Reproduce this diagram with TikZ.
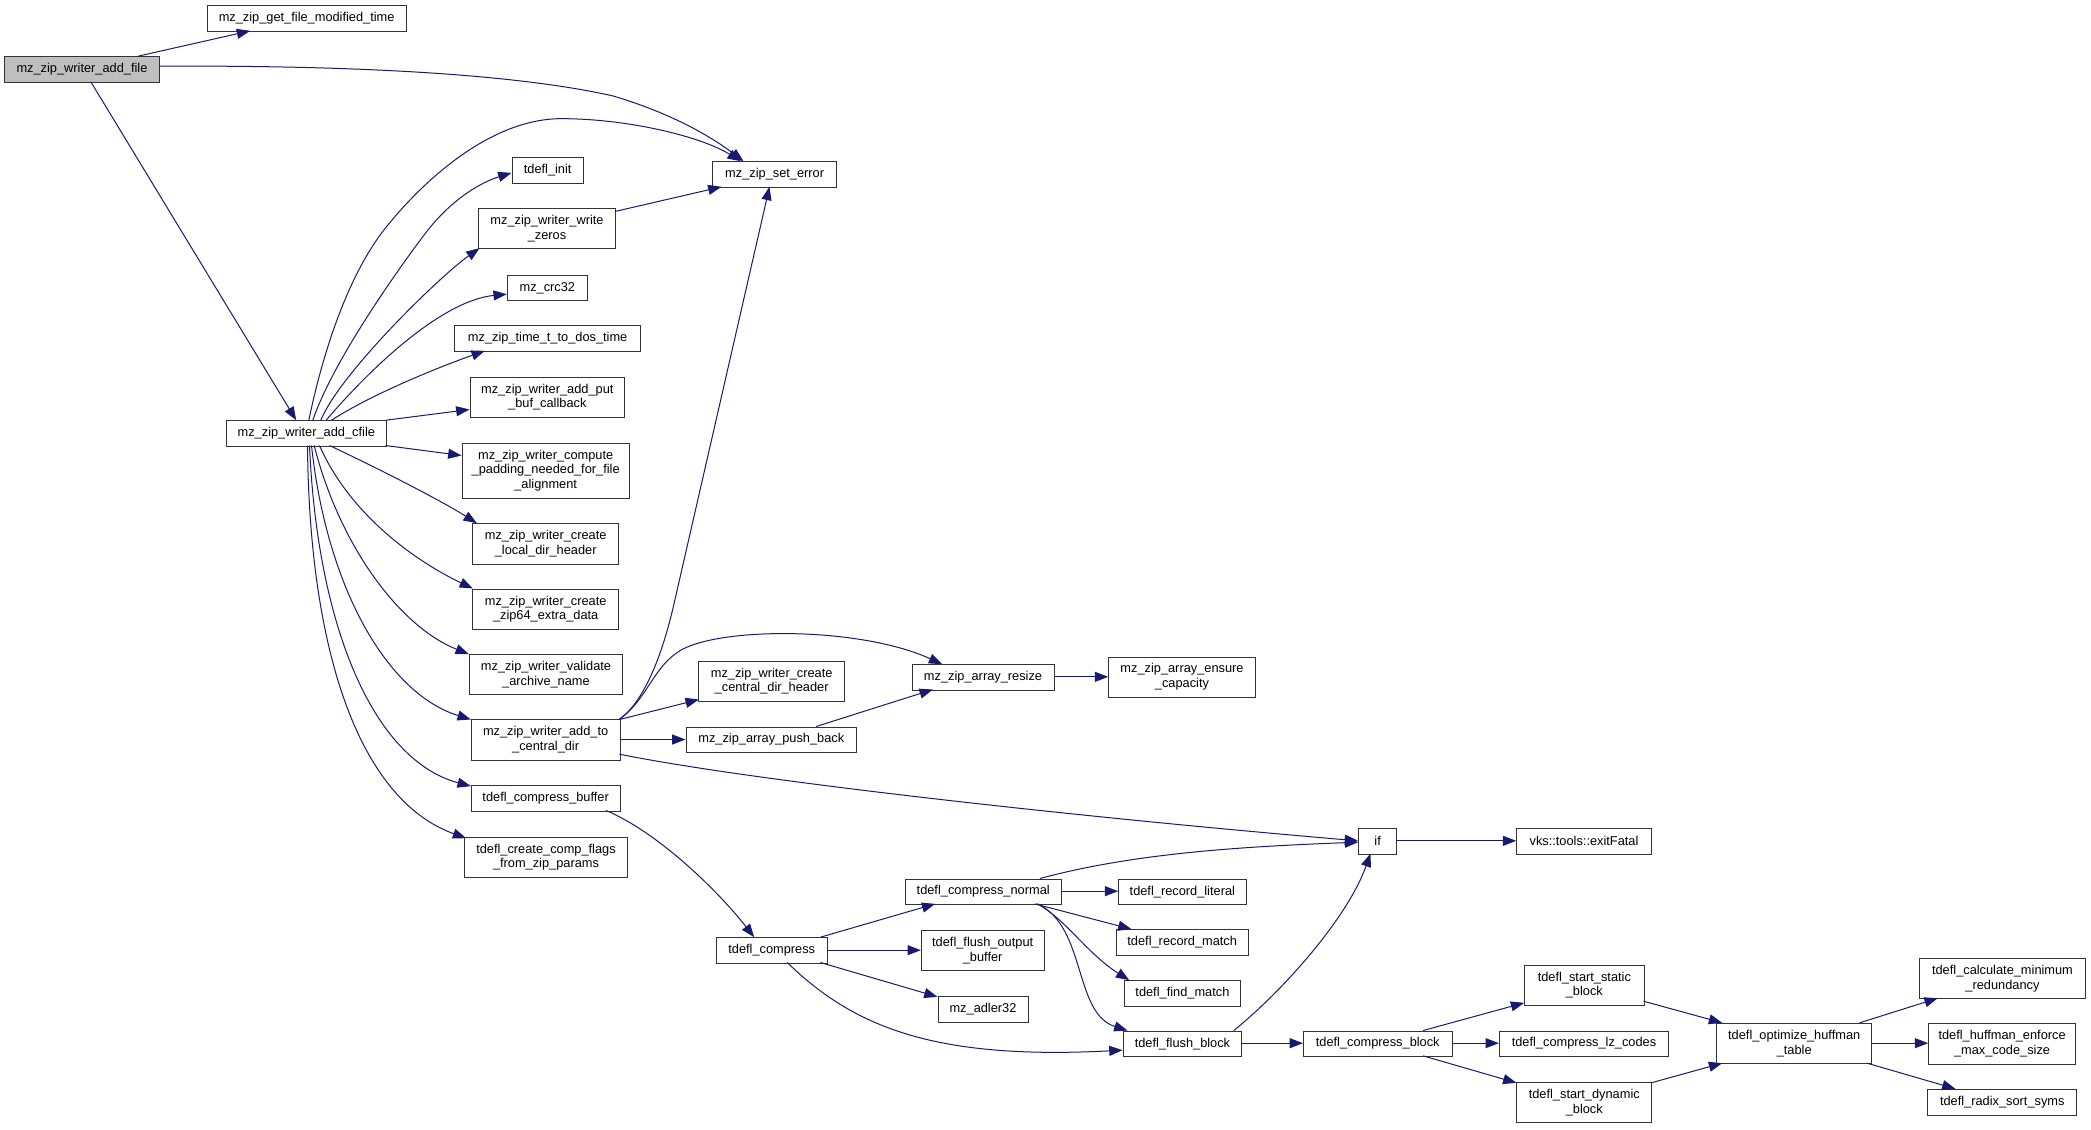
\documentclass[tikz,border=0pt]{standalone}
\usepackage{fontspec}
\setmainfont{Liberation Sans}
\usetikzlibrary{arrows.meta,calc}
\definecolor{edgecol}{HTML}{191970}
\definecolor{rootfill}{HTML}{BFBFBF}
\begin{document}
\begin{tikzpicture}[x=1pt,y=-1pt,
  box/.style={draw=black!80, line width=0.75pt, fill=white, inner sep=1pt, align=center,
    font=\fontsize{9.6}{11}\selectfont},
  bb/.style args={#1/#2/#3/#4}{minimum width={(#3-#1)*1pt}, minimum height={(#4-#2)*1pt},
    at={({(#1+#3)/2},{(#2+#4)/2})}},
  e/.style={draw=edgecol, line width=0.75pt, -{Triangle[length=10pt,width=7.5pt]}}]
\useasboundingbox (0,0) rectangle (1568.25,846.75);
% nodes
\node[box,bb=155.5/4.25/304.5/23.5] (getmod) {mz\_zip\_get\_file\_modified\_time};
\node[box,bb=3.5/42.5/119.5/61.75,fill=rootfill] (addfile) {mz\_zip\_writer\_add\_file};
\node[box,bb=534.5/121.25/627.5/140.5] (seterr) {mz\_zip\_set\_error};
\node[box,bb=384/118.25/437.5/137.5] (tinit) {tdefl\_init};
\node[box,bb=359/156.5/461.5/186.5] (zeros) {mz\_zip\_writer\_write\\\_zeros};
\node[box,bb=380.5/206.25/440.5/225.5] (crc) {mz\_crc32};
\node[box,bb=341/244.25/480.5/263.5] (dostime) {mz\_zip\_time\_t\_to\_dos\_time};
\node[box,bb=352.5/282.75/468.5/312.75] (putbuf) {mz\_zip\_writer\_add\_put\\\_buf\_callback};
\node[box,bb=169.5/315.5/290/334.5] (cfile) {mz\_zip\_writer\_add\_cfile};
\node[box,bb=346.5/332.25/472/373.5] (padding) {mz\_zip\_writer\_compute\\\_padding\_needed\_for\_file\\\_alignment};
\node[box,bb=354.5/392.75/464/423] (localdir) {mz\_zip\_writer\_create\\\_local\_dir\_header};
\node[box,bb=354.5/441.75/464/472] (zip64) {mz\_zip\_writer\_create\\\_zip64\_extra\_data};
\node[box,bb=352/490.75/467/521] (validate) {mz\_zip\_writer\_validate\\\_archive\_name};
\node[box,bb=353.5/539.75/465/570] (central) {mz\_zip\_writer\_add\_to\\\_central\_dir};
\node[box,bb=353.5/589.25/465/608.25] (cbuffer) {tdefl\_compress\_buffer};
\node[box,bb=348.5/627.75/470.5/658] (cflags) {tdefl\_create\_comp\_flags\\\_from\_zip\_params};
\node[box,bb=524/495.75/633.5/526] (cdirhdr) {mz\_zip\_writer\_create\\\_central\_dir\_header};
\node[box,bb=514.5/545.25/642.5/564.25] (pushback) {mz\_zip\_array\_push\_back};
\node[box,bb=684/498.5/790.5/517.5] (resize) {mz\_zip\_array\_resize};
\node[box,bb=831.5/492.75/941.5/522.75] (ensure) {mz\_zip\_array\_ensure\\\_capacity};
\node[box,bb=1019/621.5/1047.5/640.5] (if) {if};
\node[box,bb=1137.5/621.5/1238.5/640.5] (exitfatal) {vks::tools::exitFatal};
\node[box,bb=537.3/703.25/620.3/722.25] (tcompress) {tdefl\_compress};
\node[box,bb=678.8/659.25/796/678.25] (cnormal) {tdefl\_compress\_normal};
\node[box,bb=839/659.25/934.5/678.25] (literal) {tdefl\_record\_literal};
\node[box,bb=691/697.75/783/728] (flushout) {tdefl\_flush\_output\\\_buffer};
\node[box,bb=837.3/697.25/936/716.25] (rmatch) {tdefl\_record\_match};
\node[box,bb=703.5/747.5/771/766.5] (adler) {mz\_adler32};
\node[box,bb=843.3/735.5/930.3/754.5] (findmatch) {tdefl\_find\_match};
\node[box,bb=842.3/773.25/931.4/792.25] (flushblock) {tdefl\_flush\_block};
\node[box,bb=977.6/773.25/1089/792.25] (cblock) {tdefl\_compress\_block};
\node[box,bb=1143.5/723.75/1233/754] (staticb) {tdefl\_start\_static\\\_block};
\node[box,bb=1124.5/773.25/1251.5/792.25] (lzcodes) {tdefl\_compress\_lz\_codes};
\node[box,bb=1137.7/811.75/1238.7/841.75] (dynb) {tdefl\_start\_dynamic\\\_block};
\node[box,bb=1287.6/767.5/1403.7/797.75] (optim) {tdefl\_optimize\_huffman\\\_table};
\node[box,bb=1439.7/718.75/1564/749] (calcmin) {tdefl\_calculate\_minimum\\\_redundancy};
\node[box,bb=1446.5/767.75/1556.6/798] (enforce) {tdefl\_huffman\_enforce\\\_max\_code\_size};
\node[box,bb=1445.7/817/1557.7/836.25] (radix) {tdefl\_radix\_sort\_syms};
% edges
\draw[e] ($(addfile.north west)+(100.5,0)$) -- ($(getmod.north west)+(32.5,19.25)$);
\draw[e] ($(addfile.north west)+(116,7.5)$) .. controls (250,49) and (380,54) .. (460,72)
  .. controls (500,84) and (530,100) .. ($(seterr.north west)+(23.5,0)$);
\draw[e] ($(addfile.north west)+(65,19.25)$) -- ($(cfile.north west)+(53,0)$);
\draw[e] ($(cfile.north west)+(62.5,0)$) .. controls (242,265) and (260,210) .. (286,175)
  .. controls (305,150) and (360,89) .. (421,89)
  .. controls (470,89) and (525,102) .. ($(seterr.north west)+(21.5,0)$);
\draw[e] ($(cfile.north west)+(65.5,0)$) .. controls (250,270) and (300,200) .. (319,175)
  .. controls (338,150) and (360,137) .. ($(tinit.north west)+(0,11.75)$);
\draw[e] ($(cfile.north west)+(71.5,0)$) .. controls (255,280) and (330,207) .. ($(zeros.north west)+(1,30)$);
\draw[e] ($(cfile.north west)+(75.5,0)$) .. controls (285,268) and (335,225) .. ($(crc.north west)+(0,14.75)$);
\draw[e] ($(cfile.north west)+(79.5,0)$) .. controls (280,295) and (330,275) .. ($(dostime.north west)+(23,19.25)$);
\draw[e] ($(cfile.north west)+(120.5,0)$) -- ($(putbuf.north west)+(0,24.75)$);
\draw[e] ($(cfile.north west)+(120,19)$) -- ($(padding.north west)+(0,9.75)$);
\draw[e] ($(cfile.north west)+(78,19)$) .. controls (285,352) and (330,375) .. ($(localdir.north west)+(3.5,0)$);
\draw[e] ($(cfile.north west)+(70.5,19)$) .. controls (262,385) and (310,420) .. ($(zip64.north west)+(0.5,0)$);
\draw[e] ($(cfile.north west)+(66.5,19)$) .. controls (255,410) and (300,470) .. ($(validate.north west)+(0,0.25)$);
\draw[e] ($(cfile.north west)+(64.5,19)$) .. controls (245,440) and (290,520) .. ($(central.north west)+(0,0.25)$);
\draw[e] ($(cfile.north west)+(63,19)$) .. controls (238,470) and (280,570) .. ($(cbuffer.north west)+(0,0.75)$);
\draw[e] ($(cfile.north west)+(61.5,19)$) .. controls (232,490) and (270,600) .. ($(cflags.north west)+(1.5,1.25)$);
\draw[e] ($(zeros.north west)+(102.5,2.5)$) -- ($(seterr.north west)+(7,19.25)$);
\draw[e] ($(central.north west)+(111.5,0)$) .. controls (485,525) and (498,485) .. (505,455)
  -- ($(seterr.north west)+(43,19.25)$);
\draw[e] ($(central.north west)+(111.5,0)$) .. controls (485,525) and (490,500) .. (510,488)
  .. controls (540,470) and (645,470) .. ($(resize.north west)+(23,0)$);
\draw[e] ($(central.north west)+(111.5,0.25)$) -- ($(cdirhdr.north west)+(0.5,29.25)$);
\draw[e] ($(central.north west)+(111.5,15.25)$) -- ($(pushback.north west)+(0,9.75)$);
\draw[e] ($(central.north west)+(111.5,26.25)$) .. controls (560,585) and (800,612) .. ($(if.north west)+(0,9.5)$);
\draw[e] ($(pushback.north west)+(98,0)$) -- ($(resize.north west)+(16,19)$);
\draw[e] ($(resize.north west)+(106.5,9.5)$) -- ($(ensure.north west)+(0,15.25)$);
\draw[e] ($(cbuffer.north west)+(101.5,19)$) .. controls (495,625) and (540,670) .. ($(tcompress.north west)+(28.7,0)$);
\draw[e] ($(tcompress.north west)+(78.4,0)$) -- ($(cnormal.north west)+(23,19)$);
\draw[e] ($(tcompress.north west)+(83,9.75)$) -- ($(flushout.north west)+(0,15.25)$);
\draw[e] ($(tcompress.north west)+(78.4,19)$) -- ($(adler.north west)+(0,0.5)$);
\draw[e] ($(tcompress.north west)+(53.5,19)$) .. controls (640,770) and (700,795) .. ($(flushblock.north west)+(0,14.75)$);
\draw[e] ($(cnormal.north west)+(101.5,0)$) .. controls (850,640) and (930,635) .. ($(if.north west)+(0,10.5)$);
\draw[e] ($(cnormal.north west)+(117.2,9.5)$) -- ($(literal.north west)+(0,9.5)$);
\draw[e] ($(cnormal.north west)+(97.6,19)$) -- ($(rmatch.north west)+(11.7,0)$);
\draw[e] ($(cnormal.north west)+(99.6,19)$) .. controls (800,690) and (815,715) .. ($(findmatch.north west)+(4,0)$);
\draw[e] ($(cnormal.north west)+(99.6,19)$) .. controls (815,695) and (805,760) .. ($(flushblock.north west)+(3.7,0)$);
\draw[e] ($(flushblock.north west)+(83.4,0)$) .. controls (960,745) and (1010,690) .. ($(if.north west)+(9.3,19)$);
\draw[e] ($(flushblock.north west)+(89.1,9.5)$) -- ($(cblock.north west)+(0,9.5)$);
\draw[e] ($(cblock.north west)+(90.1,0)$) -- ($(staticb.north west)+(0,28.75)$);
\draw[e] ($(cblock.north west)+(111.4,9.5)$) -- ($(lzcodes.north west)+(0,9.5)$);
\draw[e] ($(cblock.north west)+(90.1,19)$) -- ($(dynb.north west)+(0,0.75)$);
\draw[e] ($(staticb.north west)+(89.5,27.5)$) -- ($(optim.north west)+(4.4,0)$);
\draw[e] ($(dynb.north west)+(101,0.75)$) -- ($(optim.north west)+(4.4,30.25)$);
\draw[e] ($(optim.north west)+(107.4,0)$) -- ($(calcmin.north west)+(14,30.25)$);
\draw[e] ($(optim.north west)+(116.1,15.25)$) -- ($(enforce.north west)+(0,15)$);
\draw[e] ($(optim.north west)+(113.1,30.25)$) -- ($(radix.north west)+(21.3,0)$);
\draw[e] ($(if.north west)+(28.5,9.5)$) -- ($(exitfatal.north west)+(0,9.5)$);
\end{tikzpicture}
\end{document}
